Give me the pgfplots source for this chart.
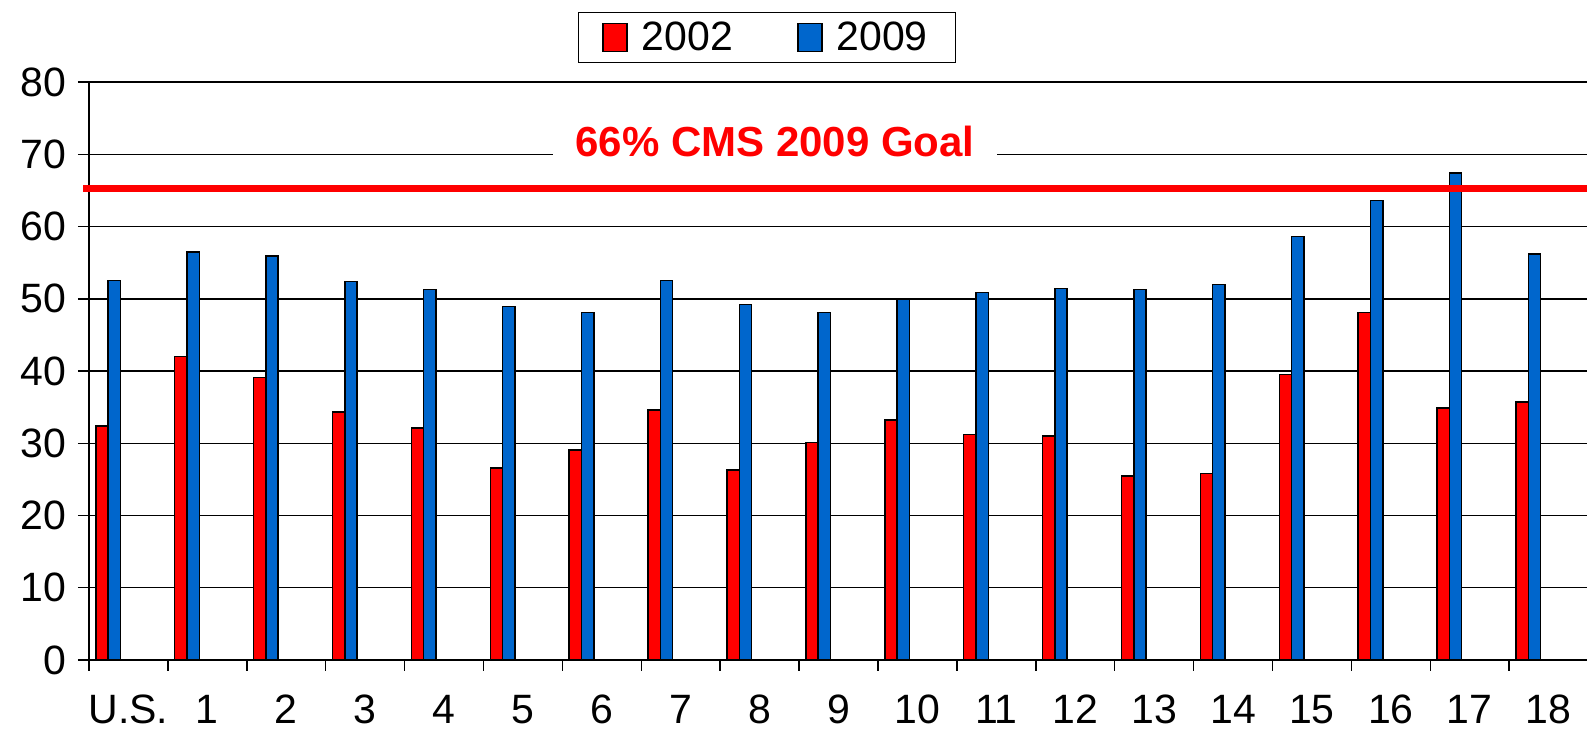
\documentclass[border=0pt]{standalone}
\usepackage{pgfplots}
\usepackage{pgfplotstable}
\pgfplotsset{compat=1.18}
\usepackage{fontspec}
\setmainfont{Liberation Sans}
\definecolor{barred}{RGB}{255,0,0}
\definecolor{barblue}{RGB}{0,102,204}

\pgfplotstableread{
x y02 y09
0 32.4 52.5
1 42.0 56.5
2 39.1 55.9
3 34.3 52.4
4 32.1 51.3
5 26.6 48.9
6 29.1 48.1
7 34.6 52.5
8 26.3 49.2
9 30.1 48.1
10 33.2 50.0
11 31.2 50.9
12 31.0 51.4
13 25.5 51.3
14 25.8 52.0
15 39.5 58.6
16 48.1 63.6
17 34.9 67.4
18 35.7 56.2
}\datatable

\begin{document}
\begin{tikzpicture}
\path[use as bounding box] (-44.5pt,-36.5pt) rectangle (749pt,330pt);
\begin{axis}[
  at={(0,0)}, anchor=south west,
  scale only axis, width=749pt, height=289pt,
  xmin=-0.5, xmax=18.486, ymin=0, ymax=80,
  axis x line*=bottom, axis y line*=left,
  axis line style={-, line width=0.75pt, black},
  ytick={0,10,20,30,40,50,60,70,80},
  ymajorgrids, grid style={black, line width=0.75pt},
  xtick={-0.5,0.5,1.5,2.5,3.5,4.5,5.5,6.5,7.5,8.5,9.5,10.5,11.5,12.5,13.5,14.5,15.5,16.5,17.5},
  xticklabels={},
  extra x ticks={0,1,2,3,4,5,6,7,8,9,10,11,12,13,14,15,16,17,18},
  extra x tick labels={U.S.,1,2,3,4,5,6,7,8,9,10,11,12,13,14,15,16,17,18},
  extra x tick style={major tick length=0pt, xticklabel style={yshift=-14pt}},
  yticklabel style={xshift=-2.5pt},
  tick align=outside, major tick length=5.5pt,
  tick style={black, line width=0.75pt},
  tick label style={font=\fontsize{20.5}{24}\selectfont},
  /pgf/number format/assume math mode=true,
  clip=false,
  legend columns=2,
  legend image code/.code={\draw[#1] (0pt,-7pt) rectangle (12pt,7pt); \path (17pt,0pt);},
  legend style={at={(0.4526,1)}, anchor=south, yshift=9.5pt,
    draw=black, line width=0.75pt, fill=white,
    font=\fontsize{20.5}{24}\selectfont,
    inner xsep=12pt, inner ysep=2.5pt,
    /tikz/every even column/.append style={column sep=30pt}},
]
\addplot[ybar, bar width=6.15pt, bar shift=-13.25pt, fill=barred, draw=black, line width=0.75pt]
  table[x=x, y=y02] {\datatable};
\addplot[ybar, bar width=6.15pt, bar shift=-7.1pt, fill=barblue, draw=black, line width=0.75pt]
  table[x=x, y=y09] {\datatable};
\legend{2002,2009}
\addplot[red, line width=3.5pt, forget plot] coordinates {(-0.576,65.2) (18.486,65.2)};
\node[fill=white, text=red, font=\bfseries\fontsize{21}{25}\selectfont, inner xsep=11pt, inner ysep=1pt]
  at (axis cs:8.195,71.7) {66\% CMS 2009 Goal};
\end{axis}
\end{tikzpicture}
\end{document}
